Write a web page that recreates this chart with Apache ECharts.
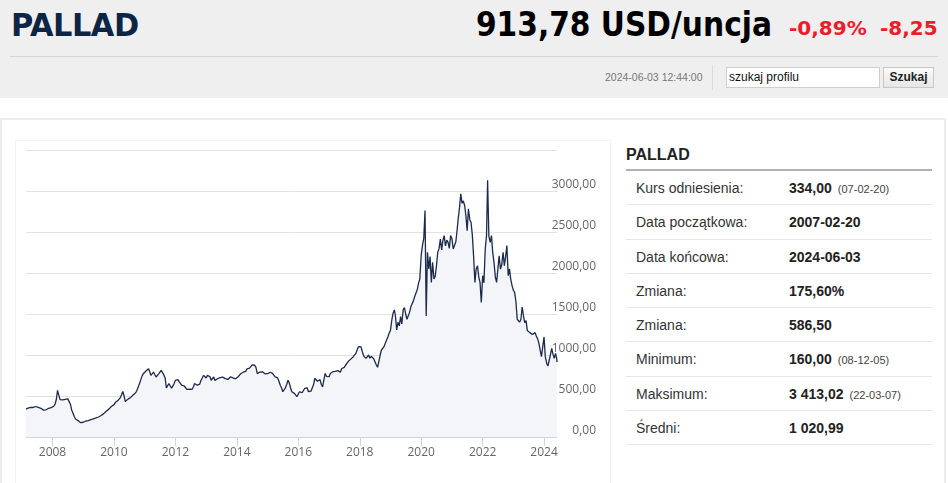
<!DOCTYPE html>
<html lang="pl">
<head>
<meta charset="UTF-8">
<title>Pallad</title>
<script src="https://cdn.jsdelivr.net/npm/echarts@6/dist/echarts.min.js"></script>
<style>
    body { margin: 0; width: 948px; height: 483px; overflow: hidden; background: #fff; font-family: "Liberation Sans", Arial, sans-serif; position: relative; }
    .top { position: absolute; left: 0; top: 0; width: 948px; height: 98px; background: #efefef; }
    .name { position: absolute; left: 11px; top: 6px; font: bold 32px "DejaVu Sans", sans-serif; color: #0d2545; transform: scaleX(0.95); transform-origin: left; letter-spacing: -0.5px; }
    .price { position: absolute; right: 176px; top: 5px; font: bold 33px "DejaVu Sans", sans-serif; color: #000; transform: scaleX(0.9); transform-origin: right; white-space: nowrap; }
    .chg { position: absolute; top: 16px; font: bold 20px "DejaVu Sans", sans-serif; color: #ec1c2a; white-space: nowrap; }
    .hline { position: absolute; left: 10px; top: 56px; width: 928px; height: 1px; background: #d6d6d6; }
    .stamp { position: absolute; left: 605px; top: 71px; font-size: 10.5px; color: #777; }
    .vsep { position: absolute; left: 712px; top: 65px; width: 1px; height: 25px; background: #dcdcdc; }
    .search { position: absolute; left: 726px; top: 67px; width: 150px; height: 19px; border: 1px solid #cfcfcf; background: #fff; font-size: 12px; line-height: 19px; padding-left: 2px; box-sizing: content-box; color: #111; }
    .btn { position: absolute; left: 883px; top: 67px; width: 49px; height: 19px; border: 1px solid #c8c8c8; background: linear-gradient(#fbfbfb, #e6e6e6); font-weight: bold; font-size: 12px; line-height: 19px; text-align: center; color: #222; }
    .panel { position: absolute; left: 0; top: 118px; width: 942px; height: 380px; border: 2px solid #ececec; }
    .chartbox { position: absolute; left: 15px; top: 140px; width: 594px; height: 360px; border: 1px solid #f2f2f2; }
    #chart { position: absolute; left: 16px; top: 141px; width: 594px; height: 342px; }
    .info { position: absolute; left: 626px; top: 140px; width: 306px; }
    .info h2 { margin: 0; height: 29px; font-size: 16px; line-height: 29px; color: #222; border-bottom: 2px solid #b0b0b0; padding-top: 0; }
    .row { height: 34.3px; box-sizing: border-box; border-bottom: 1px solid #e7e7e7; font-size: 14px; line-height: 34px; color: #333; position: relative; }
    .row .k { position: absolute; left: 10px; }
    .row .v { position: absolute; left: 163px; font-weight: bold; color: #222; }
    .row .v small { font-weight: normal; font-size: 11px; color: #444; margin-left: 6px; }
</style>
</head>
<body>
<div class="top">
    <div class="name">PALLAD</div>
    <div class="price">913,78 USD/uncja</div>
    <div class="chg" style="left: 789px">-0,89%</div>
    <div class="chg" style="left: 880px">-8,25</div>
    <div class="hline"></div>
    <div class="stamp">2024-06-03 12:44:00</div>
    <div class="vsep"></div>
    <div class="search">szukaj profilu</div>
    <div class="btn">Szukaj</div>
</div>
<div class="panel"></div>
<div class="chartbox"></div>
<div id="chart"></div>
<div class="info">
    <h2>PALLAD</h2>
    <div class="row"><span class="k">Kurs odniesienia:</span><span class="v">334,00<small>(07-02-20)</small></span></div>
    <div class="row"><span class="k">Data początkowa:</span><span class="v">2007-02-20</span></div>
    <div class="row"><span class="k">Data końcowa:</span><span class="v">2024-06-03</span></div>
    <div class="row"><span class="k">Zmiana:</span><span class="v">175,60%</span></div>
    <div class="row"><span class="k">Zmiana:</span><span class="v">586,50</span></div>
    <div class="row"><span class="k">Minimum:</span><span class="v">160,00<small>(08-12-05)</small></span></div>
    <div class="row"><span class="k">Maksimum:</span><span class="v">3 413,02<small>(22-03-07)</small></span></div>
    <div class="row"><span class="k">Średni:</span><span class="v">1 020,99</span></div>
</div>

<script>
    // price readings, 1st and 16th of every month (2007 starts at 2007-02-20, 2024 ends at 2024-06-03)
    const startDate = new Date(2007, 1, 20).getTime();
    const endDate = new Date(2024, 5, 3).getTime();
    const p2007 = [340, 345, 352, 358, 362, 368, 360, 368, 372, 366, 362, 358, 350, 338, 328, 325, 332, 345, 350, 352, 358];
    const p2008 = [365, 375, 400, 460, 568, 510, 455, 440, 452, 440, 460, 472, 465, 450, 400, 330, 290, 250, 220, 230, 200, 190, 175, 172];
    const p2009 = [180, 190, 195, 205, 200, 212, 212, 218, 222, 228, 232, 238, 244, 250, 262, 270, 285, 300, 315, 328, 340, 355, 372, 385];
    const p2010 = [395, 420, 410, 444, 455, 478, 515, 555, 500, 432, 440, 462, 472, 480, 495, 512, 520, 540, 570, 610, 652, 700, 745, 772];
    const p2011 = [790, 805, 825, 832, 800, 752, 760, 792, 775, 732, 745, 770, 790, 812, 800, 760, 720, 600, 620, 652, 640, 595, 620, 650];
    const p2012 = [692, 670, 700, 672, 660, 632, 640, 622, 600, 580, 572, 585, 592, 580, 610, 652, 640, 632, 625, 645, 692, 720, 752, 740];
    const p2013 = [720, 752, 760, 735, 692, 705, 732, 690, 692, 710, 732, 725, 712, 730, 740, 712, 720, 702, 715, 732, 725, 720, 712, 710];
    const p2014 = [712, 735, 740, 772, 765, 790, 812, 800, 830, 852, 840, 860, 880, 892, 875, 850, 772, 780, 792, 785, 795, 800, 770, 752];
    const p2015 = [772, 780, 790, 772, 775, 765, 732, 740, 720, 680, 632, 600, 552, 570, 600, 640, 692, 660, 600, 552, 540, 532, 510, 492];
    const p2016 = [505, 552, 530, 540, 560, 592, 612, 600, 552, 530, 560, 600, 640, 714, 690, 680, 673, 700, 640, 612, 700, 775, 740, 755];
    const p2017 = [735, 775, 780, 796, 790, 800, 816, 810, 805, 790, 835, 857, 850, 875, 898, 920, 938, 950, 960, 979, 990, 1020, 1060, 1102];
    const p2018 = [1080, 1100, 1040, 990, 979, 959, 975, 1000, 960, 985, 1000, 955, 938, 880, 850, 830, 1000, 1061, 1070, 1102, 1120, 1183, 1220, 1265];
    const p2019 = [1300, 1420, 1510, 1550, 1480, 1306, 1400, 1355, 1469, 1380, 1550, 1579, 1500, 1436, 1428, 1520, 1591, 1600, 1660, 1714, 1722, 1800, 1877, 1926];
    const p2020 = [2211, 2334, 2420, 2762, 1477, 2252, 2048, 2200, 1885, 2130, 1926, 1960, 2089, 2252, 2300, 2415, 2280, 2400, 2456, 2330, 2400, 2374, 2300, 2456];
    const p2021 = [2420, 2293, 2300, 2380, 2500, 2660, 2800, 2966, 2850, 2880, 2823, 2700, 2517, 2783, 2650, 2619, 2456, 2200, 1885, 2050, 2089, 1950, 1885, 1640];
    const p2022 = [1967, 1880, 2293, 2456, 3130, 2450, 2374, 2456, 2250, 2130, 1950, 1885, 2048, 2211, 2048, 2100, 2252, 2089, 2200, 2334, 1967, 2050, 1926, 1850];
    const p2023 = [1790, 1763, 1650, 1436, 1420, 1400, 1436, 1585, 1480, 1395, 1420, 1300, 1282, 1273, 1290, 1250, 1242, 1273, 1232, 1200, 1141, 1060, 979, 1100];
    const p2024 = [1220, 980, 900, 865, 930, 1000, 1080, 1010, 960, 1020, 950, 913];
    const priceYears = [p2007, p2008, p2009, p2010, p2011, p2012, p2013, p2014, p2015,
        p2016, p2017, p2018, p2019, p2020, p2021, p2022, p2023, p2024];
    const yearLabels = [2008, 2010, 2012, 2014, 2016, 2018, 2020, 2022, 2024];

    let points = [];
    priceYears.forEach(function (vals, k) {
        const year = 2007 + k;
        const first = k === 0 ? 3 : 0;
        vals.forEach(function (v, i) {
            const slot = first + i;
            points.push([new Date(year, Math.floor(slot / 2), slot % 2 ? 16 : 1).getTime(), v]);
        });
    });
    points[0][0] = startDate;
    points[points.length - 1][0] = endDate;

    const yearTicks = yearLabels.map(function (y) { return new Date(y, 0, 1).getTime(); });

    let chart = echarts.init(document.getElementById('chart'));
    chart.setOption({
        animation: false,
        grid: { left: 10, right: 53, top: 9, bottom: 46 },
        xAxis: {
            type: 'value',
            min: startDate,
            max: endDate,
            axisLine: { lineStyle: { color: '#ccd6eb', width: 1 } },
            axisTick: { show: true, length: 9, customValues: yearTicks, lineStyle: { color: '#ccd6eb' } },
            axisLabel: {
                customValues: yearTicks,
                margin: 10,
                color: '#666',
                fontFamily: 'Open Sans',
                fontSize: 12,
                formatter: function (v) { return String(new Date(v).getFullYear()); }
            },
            splitLine: { show: false }
        },
        yAxis: {
            type: 'value',
            position: 'right',
            min: 0,
            max: 3500,
            interval: 500,
            axisLine: { show: false },
            axisTick: { show: false },
            axisLabel: {
                showMaxLabel: false,
                align: 'right',
                verticalAlign: 'bottom',
                margin: 39,
                color: '#666',
                fontFamily: 'Open Sans',
                fontSize: 12,
                formatter: function (v) { return v.toFixed(2).replace('.', ','); }
            },
            splitLine: { lineStyle: { color: '#e2e2e2', width: 1 } }
        },
        series: [{
            type: 'line',
            data: points,
            showSymbol: false,
            symbol: 'none',
            lineStyle: { color: '#1b2b4b', width: 1.3 },
            areaStyle: { color: '#f4f5f8', opacity: 1 }
        }]
    });
</script>
</body>
</html>
